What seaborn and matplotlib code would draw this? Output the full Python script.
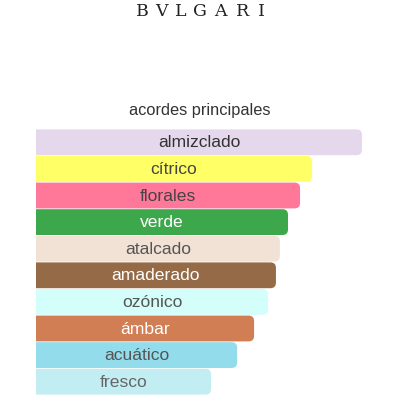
import matplotlib
matplotlib.use('Agg')
import matplotlib.pyplot as plt
import seaborn as sns
import pandas as pd
from matplotlib.patches import FancyBboxPatch

# accords and their relative strength (widest bar = 100)
acordes = ['almizclado', 'cítrico', 'florales', 'verde', 'atalcado',
           'amaderado', 'ozónico', 'ámbar', 'acuático', 'fresco']
valores = [100, 84.7, 81.0, 77.3, 74.8, 73.6, 71.2, 66.9, 61.7, 53.7]
colores = ['#E6D8EC', '#FFFF66', '#FF7799', '#3DA74B', '#F2E2D6',
           '#956A46', '#D4FEFA', '#D27E54', '#92DCEB', '#C2EDF2']
texto = ['#333333', '#444444', '#444444', '#FFFFFF', '#555555',
         '#FFFFFF', '#555555', '#FFFFFF', '#555555', '#666666']

marca = 'BVLGARI'
marca_x = [142, 161.5, 181, 200, 220.5, 242.5, 261.5]  # letter centres, px

df = pd.DataFrame({'acorde': acordes, 'valor': valores})

sns.set_theme(style='white')
plt.rcParams['font.family'] = ['Liberation Sans', 'DejaVu Sans']

fig = plt.figure(figsize=(4, 4), dpi=100)
ax = fig.add_axes([36 / 400, 1 - 395 / 400, 326 / 400, 266 / 400])

sns.barplot(data=df, x='valor', y='acorde', hue='acorde', palette=colores,
            width=0.97, legend=False, ax=ax, saturation=1)

ax.set_xlim(0, 100)
ax.set_ylim(len(acordes) - 0.5, -0.5)

# rounded right ends: swap every bar for a rounded box
px_x = 100 / 326
px_y = len(acordes) / 266
r = 5.5 * px_x
for bar in list(ax.patches):
    x0, y0 = bar.get_x(), bar.get_y()
    w, h = bar.get_width(), bar.get_height()
    fc = bar.get_facecolor()
    bar.remove()
    box = FancyBboxPatch((x0 - 2 * r, y0), w + 2 * r, h,
                         boxstyle=f'round,pad=0,rounding_size={r}',
                         mutation_aspect=px_y / px_x,
                         facecolor=fc, edgecolor='none')
    ax.add_patch(box)

for i, (a, v) in enumerate(zip(acordes, valores)):
    ax.text(v / 2, i + 0.02, a, ha='center', va='center', fontsize=12.6,
            color=texto[i])

ax.axis('off')

fig.text(0.5, 1 - 110 / 400, 'acordes principales', ha='center',
         va='center', fontsize=11.8, color='#333333')
for letra, lx in zip(marca, marca_x):
    fig.text(lx / 400, 1 - 11 / 400, letra, ha='center', va='center',
             fontsize=12.5, color='#222222',
             family=['DejaVu Serif', 'Liberation Serif'])

fig.savefig('out.png', dpi=100)
